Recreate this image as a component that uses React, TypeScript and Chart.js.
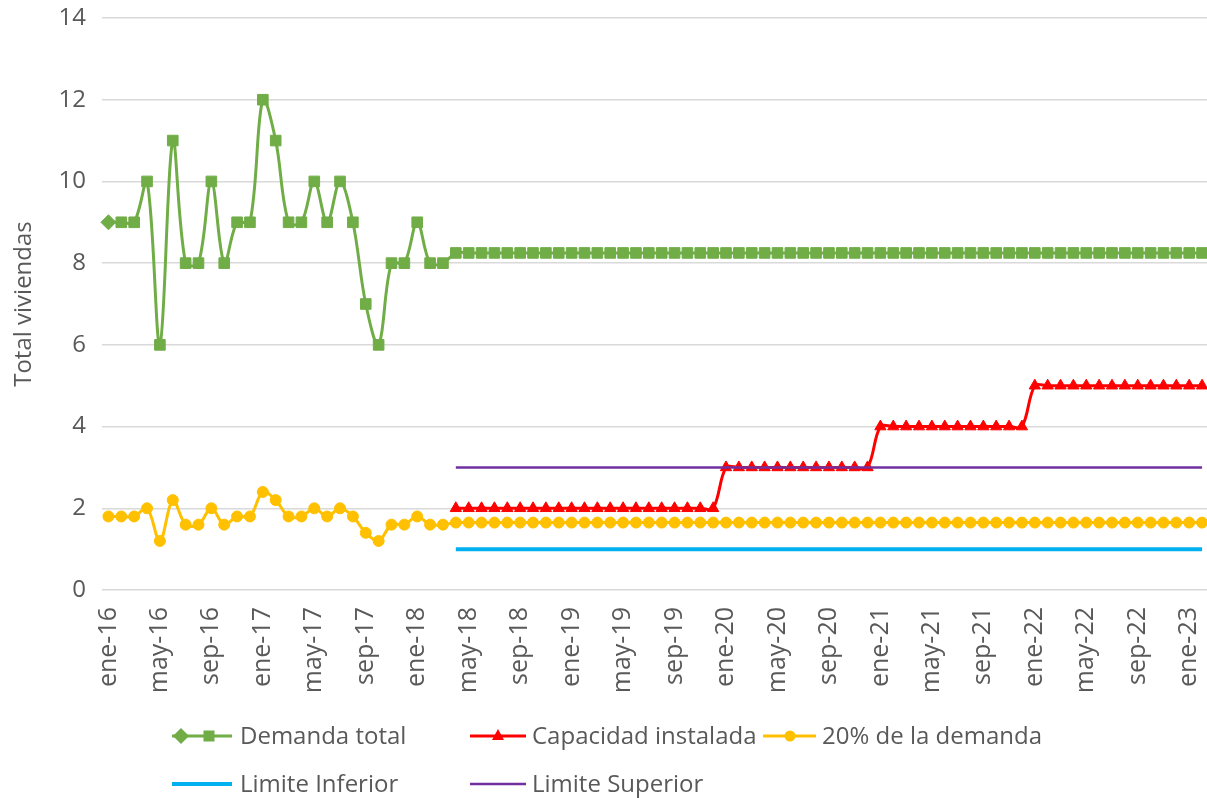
import React, { useEffect, useRef } from "react";
import { Chart, registerables } from "chart.js";

Chart.register(...registerables);

const monthNames = ["ene", "feb", "mar", "abr", "may", "jun", "jul", "ago", "sep", "oct", "nov", "dic"];
const yearNames = ["16", "17", "18", "19", "20", "21", "22", "23"];
const pointCount = 86;

const categories: string[] = [];
for (const y of yearNames) {
  for (const m of monthNames) {
    if (categories.length < pointCount) categories.push(`${m}-${y}`);
  }
}

const demandaTotal = [
  9, 9, 9, 10, 6, 11, 8, 8, 10, 8, 9, 9,
  12, 11, 9, 9, 10, 9, 10, 9, 7, 6, 8, 8,
  9, 8, 8, 8.25, 8.25, 8.25, 8.25, 8.25, 8.25, 8.25, 8.25, 8.25,
  8.25, 8.25, 8.25, 8.25, 8.25, 8.25, 8.25, 8.25, 8.25, 8.25, 8.25, 8.25,
  8.25, 8.25, 8.25, 8.25, 8.25, 8.25, 8.25, 8.25, 8.25, 8.25, 8.25, 8.25,
  8.25, 8.25, 8.25, 8.25, 8.25, 8.25, 8.25, 8.25, 8.25, 8.25, 8.25, 8.25,
  8.25, 8.25, 8.25, 8.25, 8.25, 8.25, 8.25, 8.25, 8.25, 8.25, 8.25, 8.25,
  8.25, 8.25,
];

const capacidadInstalada = [
  null, null, null, null, null, null, null, null, null, null, null, null,
  null, null, null, null, null, null, null, null, null, null, null, null,
  null, null, null, 2, 2, 2, 2, 2, 2, 2, 2, 2,
  2, 2, 2, 2, 2, 2, 2, 2, 2, 2, 2, 2,
  3, 3, 3, 3, 3, 3, 3, 3, 3, 3, 3, 3,
  4, 4, 4, 4, 4, 4, 4, 4, 4, 4, 4, 4,
  5, 5, 5, 5, 5, 5, 5, 5, 5, 5, 5, 5,
  5, 5,
];

const veintePorciento = [
  1.8, 1.8, 1.8, 2, 1.2, 2.2, 1.6, 1.6, 2, 1.6, 1.8, 1.8,
  2.4, 2.2, 1.8, 1.8, 2, 1.8, 2, 1.8, 1.4, 1.2, 1.6, 1.6,
  1.8, 1.6, 1.6, 1.65, 1.65, 1.65, 1.65, 1.65, 1.65, 1.65, 1.65, 1.65,
  1.65, 1.65, 1.65, 1.65, 1.65, 1.65, 1.65, 1.65, 1.65, 1.65, 1.65, 1.65,
  1.65, 1.65, 1.65, 1.65, 1.65, 1.65, 1.65, 1.65, 1.65, 1.65, 1.65, 1.65,
  1.65, 1.65, 1.65, 1.65, 1.65, 1.65, 1.65, 1.65, 1.65, 1.65, 1.65, 1.65,
  1.65, 1.65, 1.65, 1.65, 1.65, 1.65, 1.65, 1.65, 1.65, 1.65, 1.65, 1.65,
  1.65, 1.65,
];

const limiteInferior = [
  null, null, null, null, null, null, null, null, null, null, null, null,
  null, null, null, null, null, null, null, null, null, null, null, null,
  null, null, null, 1, 1, 1, 1, 1, 1, 1, 1, 1,
  1, 1, 1, 1, 1, 1, 1, 1, 1, 1, 1, 1,
  1, 1, 1, 1, 1, 1, 1, 1, 1, 1, 1, 1,
  1, 1, 1, 1, 1, 1, 1, 1, 1, 1, 1, 1,
  1, 1, 1, 1, 1, 1, 1, 1, 1, 1, 1, 1,
  1, 1,
];

const limiteSuperior = [
  null, null, null, null, null, null, null, null, null, null, null, null,
  null, null, null, null, null, null, null, null, null, null, null, null,
  null, null, null, 3, 3, 3, 3, 3, 3, 3, 3, 3,
  3, 3, 3, 3, 3, 3, 3, 3, 3, 3, 3, 3,
  3, 3, 3, 3, 3, 3, 3, 3, 3, 3, 3, 3,
  3, 3, 3, 3, 3, 3, 3, 3, 3, 3, 3, 3,
  3, 3, 3, 3, 3, 3, 3, 3, 3, 3, 3, 3,
  3, 3,
];

const seriesNames = ["Demanda total", "Capacidad instalada", "20% de la demanda", "Limite Inferior", "Limite Superior"];
const yTicks = [0, 2, 4, 6, 8, 10, 12, 14];

const GREEN = "#70AD47";
const RED = "#FF0000";
const YELLOW = "#FFC000";
const BLUE = "#00B0F0";
const PURPLE = "#7030A0";
const TEXT = "#595959";
const FONT = '"Open Sans", "Noto Sans", sans-serif';

type LegendSlot = { x0: number; x1: number; y: number; textX: number; marker: string; markerX?: number };
const legendSlots: LegendSlot[] = [
  { x0: 172, x1: 232, y: 736, textX: 240, marker: "demanda" },
  { x0: 470, x1: 526, y: 736, textX: 532, marker: "triangle", markerX: 498 },
  { x0: 763, x1: 816, y: 736, textX: 822, marker: "circle", markerX: 790 },
  { x0: 172, x1: 232, y: 784, textX: 240, marker: "none" },
  { x0: 470, x1: 526, y: 784, textX: 532, marker: "none" },
];

const customLegend = {
  id: "customLegend",
  afterDraw(chart: any) {
    const ctx: CanvasRenderingContext2D = chart.ctx;
    ctx.save();
    chart.data.datasets.forEach((ds: any, i: number) => {
      const s = legendSlots[i];
      if (!s) return;
      ctx.strokeStyle = ds.borderColor;
      ctx.lineWidth = ds.borderWidth;
      ctx.beginPath();
      ctx.moveTo(s.x0, s.y);
      ctx.lineTo(s.x1, s.y);
      ctx.stroke();
      ctx.fillStyle = ds.borderColor;
      if (s.marker === "demanda") {
        const dx = 181, r = 8;
        ctx.beginPath();
        ctx.moveTo(dx, s.y - r);
        ctx.lineTo(dx + r, s.y);
        ctx.lineTo(dx, s.y + r);
        ctx.lineTo(dx - r, s.y);
        ctx.closePath();
        ctx.fill();
        ctx.fillRect(209 - 5.5, s.y - 5.5, 11, 11);
      } else if (s.marker === "triangle") {
        const mx = s.markerX as number;
        ctx.beginPath();
        ctx.moveTo(mx, s.y - 7);
        ctx.lineTo(mx + 6, s.y + 4);
        ctx.lineTo(mx - 6, s.y + 4);
        ctx.closePath();
        ctx.fill();
      } else if (s.marker === "circle") {
        ctx.beginPath();
        ctx.arc(s.markerX as number, s.y, 5.5, 0, Math.PI * 2);
        ctx.fill();
      }
      ctx.fillStyle = TEXT;
      ctx.font = `24px ${FONT}`;
      ctx.textBaseline = "middle";
      ctx.textAlign = "left";
      ctx.fillText(ds.label, s.textX, s.y + 1);
    });
    ctx.restore();
  },
};

export default function App() {
  const canvasRef = useRef<HTMLCanvasElement | null>(null);

  useEffect(() => {
    const canvas = canvasRef.current;
    if (!canvas) return;
    const chart = new Chart(canvas, {
      type: "line",
      data: {
        labels: categories,
        datasets: [
          {
            label: seriesNames[0],
            data: demandaTotal,
            borderColor: GREEN,
            backgroundColor: GREEN,
            borderWidth: 3,
            pointStyle: demandaTotal.map((_, i) => (i === 0 ? "rectRot" : "rect")) as any,
            pointRadius: 7.5,
            pointBorderWidth: 1,
            pointBackgroundColor: GREEN,
            pointBorderColor: GREEN,
            tension: 0.35,
            order: 5,
          },
          {
            label: seriesNames[1],
            data: capacidadInstalada,
            borderColor: RED,
            backgroundColor: RED,
            borderWidth: 3,
            pointStyle: "triangle",
            pointRadius: 6.5,
            pointBorderWidth: 1,
            pointBackgroundColor: RED,
            pointBorderColor: RED,
            tension: 0.35,
            order: 4,
          },
          {
            label: seriesNames[2],
            data: veintePorciento,
            borderColor: YELLOW,
            backgroundColor: YELLOW,
            borderWidth: 3,
            pointStyle: "circle",
            pointRadius: 5.5,
            pointBorderWidth: 1,
            pointBackgroundColor: YELLOW,
            pointBorderColor: YELLOW,
            tension: 0.35,
            order: 3,
          },
          {
            label: seriesNames[3],
            data: limiteInferior,
            borderColor: BLUE,
            backgroundColor: BLUE,
            borderWidth: 4,
            pointRadius: 0,
            tension: 0,
            order: 2,
          },
          {
            label: seriesNames[4],
            data: limiteSuperior,
            borderColor: PURPLE,
            backgroundColor: PURPLE,
            borderWidth: 2.5,
            pointRadius: 0,
            tension: 0,
            order: 1,
          },
        ],
      },
      options: {
        animation: false,
        responsive: false,
        layout: { padding: { top: 18, right: 0, bottom: 0, left: 0 } },
        plugins: {
          legend: { display: false },
          tooltip: { enabled: false },
        },
        scales: {
          x: {
            type: "category",
            offset: true,
            grid: { display: false },
            border: { display: false },
            ticks: {
              autoSkip: false,
              maxRotation: 90,
              minRotation: 90,
              padding: 9,
              color: TEXT,
              font: { family: FONT, size: 25 },
              callback: (_v: any, i: number) => (i % 4 === 0 ? categories[i] : ""),
            },
            afterFit: (scale: any) => {
              scale.height = 208;
              scale.paddingLeft = 0;
              scale.paddingRight = 0;
              scale.paddingTop = 0;
              scale.paddingBottom = 0;
            },
          },
          y: {
            min: 0,
            max: 14,
            afterBuildTicks: (scale: any) => {
              scale.ticks = yTicks.map((v) => ({ value: v }));
            },
            grid: { color: "#D9D9D9", lineWidth: 1.5, drawTicks: false },
            border: { display: false },
            ticks: {
              padding: 16,
              color: TEXT,
              font: { family: FONT, size: 24 },
            },
            title: {
              display: true,
              text: "Total viviendas",
              color: TEXT,
              font: { family: FONT, size: 24 },
              padding: { top: 10, bottom: 0 },
            },
            afterFit: (scale: any) => {
              scale.width = 102;
              scale.paddingTop = 0;
              scale.paddingBottom = 0;
              scale.paddingLeft = 0;
              scale.paddingRight = 0;
            },
          },
        },
      },
      plugins: [customLegend],
    });
    return () => chart.destroy();
  }, []);

  return (
    <div style={{ position: "fixed", left: 0, top: 0, width: 1207, height: 798, background: "#fff", overflow: "hidden" }}>
      <canvas ref={canvasRef} width={1217} height={798} style={{ display: "block" }} />
    </div>
  );
}
